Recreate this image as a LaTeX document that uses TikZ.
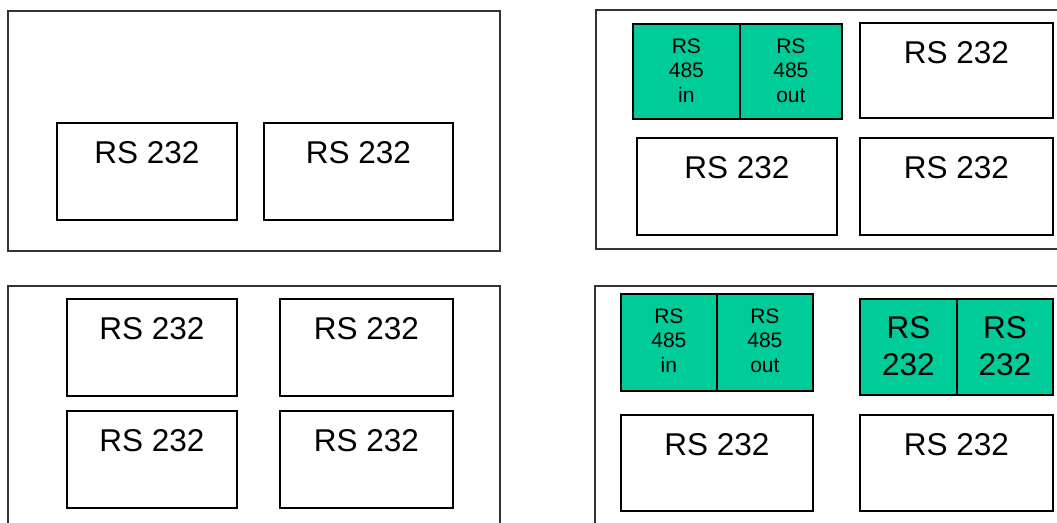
\documentclass[tikz,border=0pt]{standalone}
\usepackage{fontspec}
\setmainfont{Liberation Sans}
\usetikzlibrary{positioning}
\definecolor{portgreen}{RGB}{0,204,153}
\tikzset{
	panel/.style={draw=black!80, line width=1.4pt},
	port/.style={draw, line width=1.8pt, anchor=north west, inner sep=0pt},
	greenport/.style={port, fill=portgreen},
	bigtxt/.style={font=\fontsize{31.5}{36.7}\selectfont, anchor=base, inner sep=0pt, align=center},
	smalltxt/.style={font=\fontsize{21}{24.4}\selectfont, anchor=base, inner sep=0pt, align=center}
}
\begin{document}
\begin{tikzpicture}[x=1pt,y=-1pt]
	\useasboundingbox (0,0) rectangle (1057,522);
	\clip (0,0) rectangle (1057,522);
	%%%%%%%% top left
	\draw[panel] (8,11) rectangle (500,251);
	\node[port, minimum width=180pt, minimum height=97pt] (tla) at (56,122) {};
	\node[port, minimum width=189pt, minimum height=97pt] (tlb) at (263,122) {};
	\node[bigtxt] at ([yshift=-41pt]tla.north) {RS 232};
	\node[bigtxt] at ([yshift=-41pt]tlb.north) {RS 232};
	%%%%%%%% top right
	\draw[panel] (596,10) rectangle (1070,249);
	\node[greenport, minimum width=107pt, minimum height=95pt] (trin) at (632,23) {};
	\node[greenport, minimum width=102pt, minimum height=95pt] (trout) at (739,23) {};
	\node[port, minimum width=193pt, minimum height=95pt] (tra) at (859,22) {};
	\node[port, minimum width=200pt, minimum height=97pt] (trb) at (636,137) {};
	\node[port, minimum width=193pt, minimum height=97pt] (trc) at (859,137) {};
	% multi-line text sits on its last line
	\node[smalltxt] at ([yshift=-79pt]trin.north) {RS\\485\\in};
	\node[smalltxt] at ([yshift=-79pt]trout.north) {RS\\485\\out};
	\node[bigtxt] at ([yshift=-41pt]tra.north) {RS 232};
	\node[bigtxt] at ([yshift=-41pt]trb.north) {RS 232};
	\node[bigtxt] at ([yshift=-41pt]trc.north) {RS 232};
	%%%%%%%% bottom left
	\draw[panel] (8,286) rectangle (500,540);
	\node[port, minimum width=170pt, minimum height=97pt] (bla) at (66,298) {};
	\node[port, minimum width=173pt, minimum height=97pt] (blb) at (279,298) {};
	\node[port, minimum width=170pt, minimum height=97pt] (blc) at (66,410) {};
	\node[port, minimum width=173pt, minimum height=97pt] (bld) at (279,410) {};
	\foreach \n in {bla,blb,blc,bld}
		\node[bigtxt] at ([yshift=-41pt]\n.north) {RS 232};
	%%%%%%%% bottom right
	\draw[panel] (595,286) rectangle (1070,540);
	\node[greenport, minimum width=96pt, minimum height=97pt] (brin) at (620,293) {};
	\node[greenport, minimum width=96pt, minimum height=97pt] (brout) at (716,293) {};
	\node[greenport, minimum width=97pt, minimum height=96pt] (bra) at (859,298) {};
	\node[greenport, minimum width=96pt, minimum height=96pt] (brb) at (956,298) {};
	\node[port, minimum width=192pt, minimum height=96pt] (brc) at (620,414) {};
	\node[port, minimum width=193pt, minimum height=96pt] (brd) at (859,414) {};
	\node[smalltxt] at ([yshift=-79pt]brin.north) {RS\\485\\in};
	\node[smalltxt] at ([yshift=-79pt]brout.north) {RS\\485\\out};
	\node[bigtxt] at ([yshift=-77pt]bra.north) {RS\\232};
	\node[bigtxt] at ([yshift=-77pt]brb.north) {RS\\232};
	\node[bigtxt] at ([yshift=-41pt]brc.north) {RS 232};
	\node[bigtxt] at ([yshift=-41pt]brd.north) {RS 232};
\end{tikzpicture}
\end{document}
